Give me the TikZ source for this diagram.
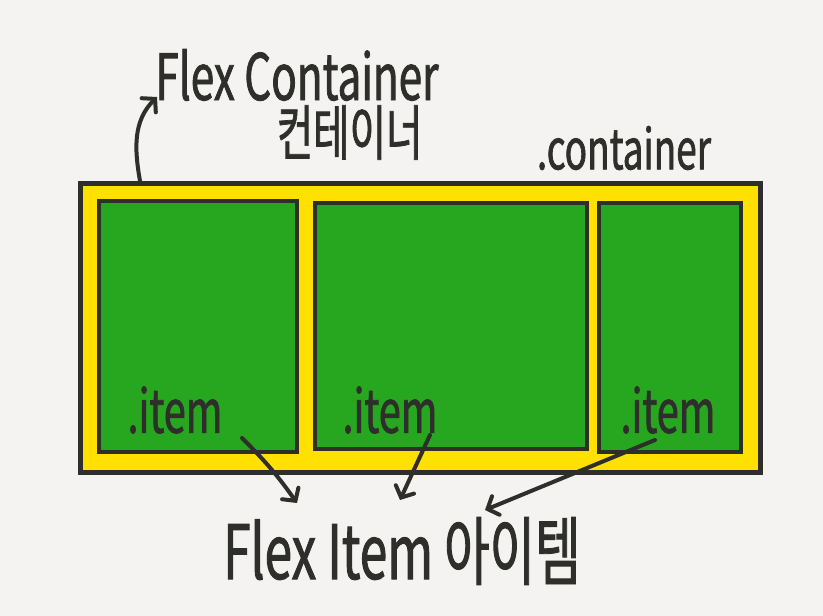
\documentclass[tikz,border=0pt]{standalone}
\usepackage{fontspec}
\usepackage{tikz}
\usetikzlibrary{arrows.meta,positioning,calc}
\newfontfamily\handfont[FakeStretch=0.66, FakeBold=1.2]{Noto Sans CJK KR}
\definecolor{paper}{RGB}{244,243,241}
\definecolor{ink}{RGB}{46,46,42}
\definecolor{flexyellow}{RGB}{255,225,0}
\definecolor{flexgreen}{RGB}{38,167,31}

\begin{document}
\begin{tikzpicture}[
    x=1pt, y=-1pt,
    every node/.style={inner sep=0pt, text=ink},
    frame/.style={draw=ink, line width=5pt, fill=flexyellow},
    itembox/.style={draw=ink, line width=4.5pt, fill=flexgreen},
    hand/.style={font=\handfont\fontsize{#1}{#1}\selectfont},
    pointer/.style={draw=ink, line width=4pt, line cap=round,
      -{Straight Barb[length=9pt, width=20pt, line cap=round]}}
  ]
    \fill[paper] (0,0) rectangle (823,616);
    \useasboundingbox (0,0) rectangle (823,616);

    % container and its items
    \node[frame, minimum width=680, minimum height=289] (ctr) at (420,327.5) {};
    \node[itembox, minimum width=198, minimum height=251] (it1) at (198,326.5) {};
    \node[itembox, minimum width=272, minimum height=246] (it2) at (451,326) {};
    \node[itembox, minimum width=142, minimum height=249] (it3) at (670,327.5) {};

    \node[hand=60] (lb1) at (175,410) {.item};
    \node[hand=60] (lb2) at (390,410) {.item};
    \node[hand=60] (lb3) at (668,410) {.item};

    % labels
    \node[hand=64] (title) at (297,75) {Flex Container};
    \node[hand=60, below=4pt of title.south east, anchor=north east, xshift=-16pt] (kor) {컨테이너};
    \node[hand=56] (cls) at (624,148) {.container};
    \node[hand=75] (flexitem) at (402,551) {Flex Item 아이템};

    % arrows
    \coordinate (ca) at (140,181);
    \coordinate (cb) at (157,97);
    \coordinate (e1) at (297,503);
    \coordinate (e2) at (400,500);
    \coordinate (e3) at (485,510);
    \coordinate (s1) at (242,438);
    \coordinate (s2) at (430,435);
    \coordinate (s3) at (655,440);

    \draw[pointer] (ca) to[out=100, in=225] (cb);
    \draw[pointer] (s1) to[bend left=5] (e1);
    \draw[pointer] (s2) -- (e2);
    \draw[pointer] (s3) -- (e3);
  \end{tikzpicture}
\end{document}
